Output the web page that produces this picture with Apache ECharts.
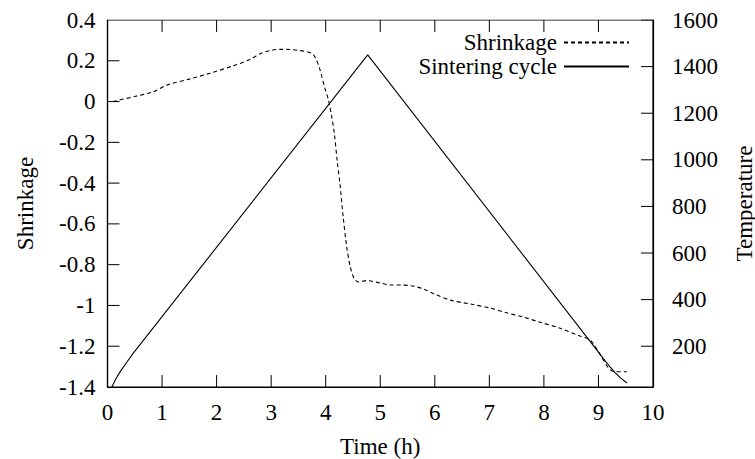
<!DOCTYPE html>
<html>
<head>
<meta charset="utf-8">
<script src="https://cdn.jsdelivr.net/npm/echarts@6/dist/echarts.min.js"></script>
<style>
html,body{margin:0;padding:0;background:#fff;}
#chart{width:755px;height:459px;}
</style>
</head>
<body>
<div id="chart"></div>
<script>
// ---- Data ----
const shrinkTime = [0.1, 0.5, 0.84, 1.09, 1.5, 1.88, 2.3, 2.6, 2.8, 2.98, 3.16, 3.35, 3.53, 3.71, 3.78, 3.83, 3.88, 3.93, 3.98, 4.05, 4.11, 4.16, 4.21, 4.26, 4.32, 4.385, 4.45, 4.5, 4.54, 4.6, 4.75, 5.0, 5.2, 5.4, 5.6, 5.8, 6.0, 6.3, 6.65, 7.0, 7.3, 7.6, 7.9, 8.3, 8.66, 8.85, 9.0, 9.09, 9.18, 9.25, 9.3, 9.52];
const shrinkValue = [0.0, 0.025, 0.048, 0.081, 0.11, 0.139, 0.175, 0.205, 0.235, 0.25, 0.256, 0.255, 0.25, 0.24, 0.228, 0.204, 0.17, 0.122, 0.07, 0.008, -0.074, -0.16, -0.29, -0.40, -0.565, -0.712, -0.81, -0.855, -0.875, -0.885, -0.878, -0.89, -0.9, -0.9, -0.905, -0.92, -0.945, -0.975, -0.993, -1.012, -1.035, -1.055, -1.08, -1.112, -1.15, -1.17, -1.227, -1.267, -1.305, -1.322, -1.325, -1.325];
const cycleTime = [0.08, 0.15, 0.23, 0.35, 0.47, 4.77, 8.95, 9.09, 9.2, 9.3, 9.4, 9.52];
const cycleTemp = [25, 58, 90, 130, 169, 1450, 190, 147, 115, 88, 65, 42];
const xTicks = [1, 2, 3, 4, 5, 6, 7, 8, 9];
const shrinkTicks = [-1.2, -1, -0.8, -0.6, -0.4, -0.2, 0, 0.2];
const tempTicks = [200, 400, 600, 800, 1000, 1200, 1400, 1600];
const seriesNames = ['Shrinkage', 'Sintering cycle'];

const X_MIN = 0, X_MAX = 10;
const S_MIN = -1.4, S_MAX = 0.4;
const T_MIN = 25, T_MAX = 1600;

const FONT = 'Liberation Serif';
const FS = 23;

// layout (pixels)
const W = 755, H = 459;
const G_LEFT = 107.5, G_RIGHT = 102, G_TOP = 20, G_BOTTOM = 72;
const TICK_PX = 12;
const TICK_DX = TICK_PX / (W - G_LEFT - G_RIGHT) * (X_MAX - X_MIN);
const TICK_DS = TICK_PX / (H - G_TOP - G_BOTTOM) * (S_MAX - S_MIN);

const chart = echarts.init(document.getElementById('chart'), null, {renderer: 'svg'});
const lbl = (extra) => Object.assign({color: '#000', fontFamily: FONT, fontSize: FS}, extra || {});
const nameStyle = () => ({color: '#000', fontFamily: FONT, fontSize: FS});

const frameData = [[X_MIN, S_MIN], [X_MAX, S_MIN], [X_MAX, S_MAX], [X_MIN, S_MAX], [X_MIN, S_MIN]];
const xTickData = [];
xTicks.forEach(x => {
  xTickData.push([x, S_MIN], [x, S_MIN + TICK_DS], null, [x, S_MAX], [x, S_MAX - TICK_DS], null);
});
const leftTickData = [];
shrinkTicks.forEach(v => { leftTickData.push([X_MIN, v], [X_MIN + TICK_DX, v], null); });
const rightTickData = [];
tempTicks.forEach(v => { rightTickData.push([X_MAX, v], [X_MAX - TICK_DX, v], null); });

const guide = (name, yIdx, data, w) => ({
  name: name, type: 'line', xAxisIndex: 0, yAxisIndex: yIdx, data: data,
  showSymbol: false, symbol: 'none', smooth: false, connectNulls: false, silent: true,
  lineStyle: {color: '#000', width: w}, itemStyle: {color: '#000'}
});

chart.setOption({
  animation: false,
  backgroundColor: '#fff',
  grid: {left: G_LEFT, right: G_RIGHT, top: G_TOP, bottom: G_BOTTOM, outerBoundsMode: 'none'},
  legend: {
    data: seriesNames,
    orient: 'vertical',
    right: 125, top: 31,
    padding: 0,
    align: 'right',
    itemWidth: 65, itemHeight: 14, itemGap: 1,
    itemStyle: {opacity: 0, borderWidth: 0},
    textStyle: {color: '#000', fontFamily: FONT, fontSize: FS, padding: [0, 2, 0, 0]}
  },
  xAxis: [
    {type: 'value', min: X_MIN, max: X_MAX, interval: 1, position: 'bottom',
     name: 'Time (h)', nameLocation: 'middle', nameGap: 48,
     nameTextStyle: nameStyle(),
     axisLine: {show: true, onZero: false, lineStyle: {color: '#000', width: 1.2}},
     axisTick: {show: false},
     axisLabel: lbl({margin: 14}),
     splitLine: {show: false}}
  ],
  yAxis: [
    {type: 'value', min: S_MIN, max: S_MAX, interval: 0.2, position: 'left',
     name: 'Shrinkage', nameLocation: 'middle', nameRotate: 90, nameGap: 71,
     nameTextStyle: nameStyle(),
     axisLine: {show: true, onZero: false, lineStyle: {color: '#000', width: 1.2}},
     axisTick: {show: false},
     axisLabel: lbl({margin: 12, formatter: v => String(Math.round(v * 10) / 10)}),
     splitLine: {show: false}},
    {type: 'value', min: T_MIN, max: T_MAX, position: 'right',
     name: 'Temperature', nameLocation: 'middle', nameRotate: 90, nameGap: 80,
     nameTextStyle: nameStyle(),
     axisLine: {show: true, onZero: false, lineStyle: {color: '#000', width: 1.2}},
     axisTick: {show: false},
     axisLabel: lbl({margin: 19, customValues: tempTicks, formatter: v => String(v)}),
     splitLine: {show: false}}
  ],
  series: [
    {name: seriesNames[0], type: 'line', xAxisIndex: 0, yAxisIndex: 0,
     data: shrinkTime.map((t, i) => [t, shrinkValue[i]]),
     showSymbol: false, symbol: 'none', smooth: 0.3,
     lineStyle: {color: '#000', width: 1.1, type: [4, 3]}, itemStyle: {color: '#000'}},
    {name: seriesNames[1], type: 'line', xAxisIndex: 0, yAxisIndex: 1,
     data: cycleTime.map((t, i) => [t, cycleTemp[i]]),
     showSymbol: false, symbol: 'none', smooth: false,
     lineStyle: {color: '#000', width: 1.1}, itemStyle: {color: '#000'}},
    guide('frame', 0, frameData, 1.2),
    guide('xticks', 0, xTickData, 1),
    guide('lticks', 0, leftTickData, 1),
    guide('rticks', 1, rightTickData, 1)
  ]
});
</script>
</body>
</html>
